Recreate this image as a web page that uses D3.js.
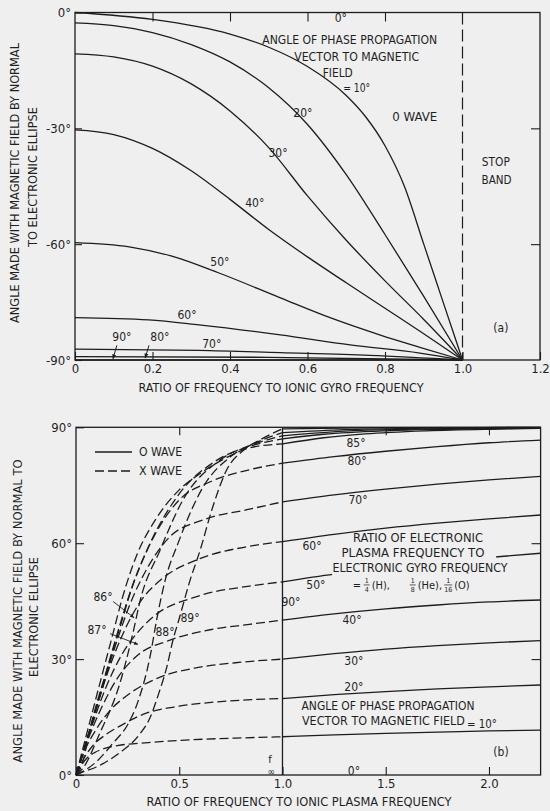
<!DOCTYPE html>
<html>
<head>
<meta charset="utf-8">
<script src="https://cdn.jsdelivr.net/npm/d3@7/dist/d3.min.js"></script>
<style>
  html, body { margin: 0; padding: 0; background: #efefef; }
  svg { display: block; }
  text { font-family: "Liberation Sans Narrow", "DejaVu Sans Condensed", "Liberation Sans", Arial, sans-serif; fill: #1f1f1f; }
</style>
</head>
<body>
<svg id="fig" width="550" height="811"></svg>
<script>
// ---------------- data: panel (a), angle vs. f / f_gyro(ion) ----------------
const topXTicks = [0, 0.2, 0.4, 0.6, 0.8, 1.0, 1.2];
const topXLabels = ["0", "0.2", "0.4", "0.6", "0.8", "1.0", "1.2"];
const topYTicks = [0, -30, -60, -90];
const topYLabels = ["0°", "-30°", "-60°", "-90°"];

// O wave, one curve per propagation angle (ratio, angle in degrees)
const topAngles = [10, 20, 30, 40, 50, 60, 70, 80, 90];
const top10 = [[0,0],[0.2,-1.8],[0.4,-5.6],[0.5,-9.0],[0.6,-14.0],[0.7,-21.5],[0.75,-27],[0.8,-34.5],[0.85,-45],[0.9,-60],[0.95,-75],[1.0,-90]];
const top20 = [[0,-2.7],[0.1,-3.4],[0.2,-5.2],[0.3,-8.3],[0.4,-12.8],[0.5,-19.5],[0.6,-29],[0.7,-42],[0.8,-57.5],[0.9,-73.5],[1.0,-90]];
const top30 = [[0,-10.7],[0.1,-11.5],[0.2,-13.9],[0.3,-18.5],[0.4,-25.5],[0.5,-35],[0.6,-47.5],[0.7,-59],[0.8,-69.5],[0.9,-79.5],[1.0,-90]];
const top40 = [[0,-30.4],[0.1,-31.6],[0.2,-35.2],[0.3,-41],[0.4,-48.4],[0.5,-56.2],[0.6,-63.3],[0.7,-70],[0.8,-76.6],[0.9,-83.2],[1.0,-90]];
const top50 = [[0,-59.6],[0.14,-60.7],[0.25,-63.1],[0.37,-67.4],[0.53,-73.9],[0.66,-79.1],[0.79,-83.6],[0.89,-86.7],[1.0,-90]];
const top60 = [[0,-79.0],[0.19,-79.6],[0.32,-80.9],[0.53,-83.5],[0.71,-86.1],[0.89,-88.2],[1.0,-90]];
const top70 = [[0,-87.2],[0.32,-87.5],[0.53,-88.1],[0.76,-88.8],[1.0,-90]];
const top80 = [[0,-89.1],[0.5,-89.3],[1.0,-90]];
const top90 = [[0,-90],[1.0,-90]];

// ---------------- data: panel (b), angle vs. f / f_plasma(ion) ----------------
const botXTicks = [0, 0.5, 1.0, 1.5, 2.0];
const botXLabels = ["0", "0.5", "1.0", "1.5", "2.0"];
const botYTicks = [0, 30, 60, 90];
const botYLabels = ["0°", "30°", "60°", "90°"];

// O wave (solid), above the ionic plasma frequency
const o10 = [[1.0,9.9],[1.25,10.4],[1.5,10.8],[1.75,11.1],[2.0,11.4],[2.25,11.6]];
const o20 = [[1.0,19.8],[1.25,20.8],[1.5,21.6],[1.75,22.3],[2.0,22.8],[2.25,23.3]];
const o30 = [[1.0,30.0],[1.25,31.4],[1.5,32.6],[1.75,33.5],[2.0,34.2],[2.25,34.8]];
const o40 = [[1.0,40.1],[1.25,41.7],[1.5,43.0],[1.75,44.0],[2.0,44.8],[2.25,45.3]];
const o50 = [[1.0,50.0],[1.25,52.0],[1.5,53.6],[1.75,55.0],[2.0,56.3],[2.25,57.4]];
const o60 = [[1.0,60.4],[1.25,62.3],[1.5,63.9],[1.75,65.2],[2.0,66.3],[2.25,67.3]];
const o70 = [[1.0,70.7],[1.25,72.5],[1.5,74.0],[1.75,75.3],[2.0,76.4],[2.25,77.3]];
const o80 = [[1.0,80.7],[1.25,82.4],[1.5,83.8],[1.75,85.0],[2.0,86.0],[2.25,86.7]];
const o85 = [[1.0,85.7],[1.2,87.3],[1.4,88.3],[1.7,89.1],[2.0,89.5],[2.25,89.7]];
const o86 = [[1.0,87.0],[1.2,88.2],[1.5,89.1],[1.8,89.5],[2.25,89.8]];
const o87 = [[1.0,87.8],[1.3,89.0],[1.6,89.5],[2.25,89.9]];
const o88 = [[1.0,88.6],[1.3,89.4],[1.7,89.8],[2.25,90]];
const o89 = [[1.0,89.6],[1.5,89.9],[2.25,90]];

// X wave (dashed), below the ionic plasma frequency
const x10 = [[0,0],[0.02,2],[0.05,4.2],[0.09,5.8],[0.14,6.9],[0.2,7.6],[0.35,8.4],[0.55,9.1],[0.8,9.6],[1.0,9.9]];
const x20 = [[0,0],[0.03,3.5],[0.08,7.5],[0.14,10.3],[0.21,12.6],[0.34,16],[0.5,17.8],[0.7,19],[0.85,19.5],[1.0,19.8]];
const x30 = [[0,0],[0.04,6],[0.1,12],[0.17,17],[0.245,20.5],[0.41,25.4],[0.6,27.9],[0.8,29.2],[1.0,30]];
const x40 = [[0,0],[0.05,8],[0.12,17],[0.2,25],[0.29,30.6],[0.455,34.9],[0.65,37.6],[0.84,39],[1.0,40.1]];
const x50 = [[0,0],[0.06,10],[0.14,22],[0.22,31],[0.3,37],[0.375,41],[0.585,46.2],[0.84,48.9],[1.0,50]];
const x60 = [[0,0],[0.07,12],[0.15,26],[0.24,38],[0.32,45.5],[0.41,50.5],[0.6,56],[0.84,59.2],[1.0,60.4]];
const x70 = [[0,0],[0.08,14],[0.17,30],[0.26,44],[0.35,54],[0.455,61.7],[0.615,66],[0.84,68.8],[1.0,70.7]];
const x80 = [[0,0],[0.09,16],[0.18,33],[0.28,50],[0.38,62],[0.5,71.2],[0.65,75.9],[0.84,79],[1.0,80.7]];
const x85 = [[0,0],[0.053,10.9],[0.116,23.8],[0.18,36.8],[0.22,45],[0.295,57],[0.39,66.5],[0.5,73.8],[0.6,78],[0.7,81.3],[0.85,84.8],[1.0,85.7]];
const x86 = [[0,0],[0.02,1.5],[0.082,15],[0.165,29.8],[0.228,40.9],[0.252,45.3],[0.344,58.2],[0.489,72],[0.683,81.5],[0.85,85.2],[1.0,87]];
const x87 = [[0,0],[0.03,1.5],[0.116,10.9],[0.213,23.8],[0.276,36.8],[0.31,45],[0.407,58.2],[0.518,71.2],[0.697,81.5],[0.86,85.6],[1.0,87.8]];
const x88 = [[0,0],[0.03,0.8],[0.1,3.5],[0.18,8.3],[0.25,13],[0.3,19],[0.36,31],[0.39,40],[0.43,50],[0.5,60.8],[0.615,74.5],[0.746,82.3],[0.87,86],[1.0,88.6]];
const x89 = [[0,0],[0.02,0.5],[0.1,2.1],[0.21,5.7],[0.3,10],[0.36,15],[0.4,21],[0.44,28],[0.47,35],[0.5,40.5],[0.55,50],[0.6,58],[0.66,69],[0.73,79],[0.81,84],[0.9,87],[1.0,89.6]];

// ---------------- drawing ----------------
const INK = "#1d1d1d";
const svg = d3.select("#fig");
const defs = svg.append("defs");

defs.append("marker")
  .attr("id", "tip").attr("viewBox", "0 0 10 10").attr("refX", 9).attr("refY", 5)
  .attr("markerWidth", 5).attr("markerHeight", 5).attr("orient", "auto-start-reverse")
  .append("path").attr("d", "M0,1 L10,5 L0,9 Z").attr("fill", INK);

function txt(g, x, y, s, size, opts = {}) {
  const t = g.append("text")
    .attr("x", x).attr("y", y)
    .attr("dy", "0.35em")
    .attr("text-anchor", opts.anchor || "middle")
    .style("font-size", size + "px")
    .text(s);
  if (opts.w) t.attr("textLength", opts.w).attr("lengthAdjust", "spacingAndGlyphs");
  if (opts.rot) t.attr("transform", `rotate(${opts.rot},${x},${y})`);
  return t;
}

function styleAxis(g, size) {
  g.select(".domain").remove();
  g.selectAll(".tick line").attr("stroke", INK).attr("stroke-width", 1.1);
  g.selectAll(".tick text").style("font-size", size + "px").attr("fill", INK);
}

// ===== panel (a) =====
const xT = d3.scaleLinear().domain([0, 1.2]).range([75, 540]);
const yT = d3.scaleLinear().domain([-90, 0]).range([360, 12.5]);
const gT = svg.append("g");

const lineT = d3.line().x(d => xT(d[0])).y(d => yT(d[1])).curve(d3.curveMonotoneX);
const topSeries = [top10, top20, top30, top40, top50, top60, top70, top80, top90];
gT.selectAll("path.o").data(topSeries).join("path")
  .attr("class", "o").attr("d", lineT)
  .attr("fill", "none").attr("stroke", INK).attr("stroke-width", 1.3);

// stop-band boundary at the ionic gyro frequency
gT.append("line")
  .attr("x1", xT(1.0)).attr("x2", xT(1.0)).attr("y1", yT(0)).attr("y2", yT(-90))
  .attr("stroke", INK).attr("stroke-width", 1.2).attr("stroke-dasharray", "12,5");

// frame
gT.append("rect")
  .attr("x", xT(0)).attr("y", yT(0)).attr("width", xT(1.2) - xT(0)).attr("height", yT(-90) - yT(0))
  .attr("fill", "none").attr("stroke", INK).attr("stroke-width", 1.3);

// axes
const axTB = gT.append("g").attr("transform", `translate(0,${yT(-90)})`)
  .call(d3.axisBottom(xT).tickValues(topXTicks).tickFormat((d, i) => topXLabels[i]).tickSizeInner(-8).tickSizeOuter(0).tickPadding(4));
styleAxis(axTB, 13);
const axTT = gT.append("g").attr("transform", `translate(0,${yT(0)})`)
  .call(d3.axisTop(xT).tickValues(topXTicks.slice(1, 5)).tickFormat("").tickSizeInner(-9).tickSizeOuter(0));
styleAxis(axTT, 13);
const axTL = gT.append("g").attr("transform", `translate(${xT(0)},0)`)
  .call(d3.axisLeft(yT).tickValues(topYTicks).tickFormat((d, i) => topYLabels[i]).tickSizeInner(-7).tickSizeOuter(0).tickPadding(4));
styleAxis(axTL, 13);
const axTR = gT.append("g").attr("transform", `translate(${xT(1.2)},0)`)
  .call(d3.axisRight(yT).tickValues([-30, -60]).tickFormat("").tickSizeInner(-9).tickSizeOuter(0));
styleAxis(axTR, 13);

// titles
txt(gT, 281, 388, "RATIO OF FREQUENCY TO IONIC GYRO FREQUENCY", 12.5, { w: 285 });
txt(gT, 15, 183, "ANGLE MADE WITH MAGNETIC FIELD BY NORMAL", 12.5, { w: 280, rot: -90 });
txt(gT, 33, 177, "TO ELECTRONIC ELLIPSE", 12.5, { w: 140, rot: -90 });

// curve labels and notes
txt(gT, xT(0.686), yT(-1.4), "0°", 12);
txt(gT, xT(0.709), yT(-7.1), "ANGLE OF PHASE PROPAGATION", 12, { w: 175 });
txt(gT, xT(0.727), yT(-11.5), "VECTOR TO MAGNETIC", 12, { w: 125 });
txt(gT, xT(0.678), yT(-15.7), "FIELD", 12, { w: 30 });
txt(gT, xT(0.727), yT(-19.6), "= 10°", 12, { w: 27 });
txt(gT, xT(0.588), yT(-26.0), "20°", 12);
txt(gT, xT(0.524), yT(-36.4), "30°", 12);
txt(gT, xT(0.464), yT(-49.3), "40°", 12);
txt(gT, xT(0.374), yT(-64.6), "50°", 12);
txt(gT, xT(0.289), yT(-78.3), "60°", 12);
txt(gT, xT(0.353), yT(-85.9), "70°", 12);
txt(gT, xT(0.121), yT(-84.0), "90°", 12);
txt(gT, xT(0.219), yT(-84.0), "80°", 12);
txt(gT, xT(0.877), yT(-27.1), "0 WAVE", 12, { w: 45 });
txt(gT, xT(1.086), yT(-38.7), "STOP", 12, { w: 28 });
txt(gT, xT(1.088), yT(-43.4), "BAND", 12, { w: 30 });
txt(gT, xT(1.099), yT(-81.7), "(a)", 12);

// pointers to the 90° and 80° curves
[[0.108, -86.2, 0.098, -89.7], [0.191, -86.2, 0.181, -89.5]].forEach(a => {
  gT.append("line")
    .attr("x1", xT(a[0])).attr("y1", yT(a[1])).attr("x2", xT(a[2])).attr("y2", yT(a[3]))
    .attr("stroke", INK).attr("stroke-width", 1).attr("marker-end", "url(#tip)");
});

// ===== panel (b) =====
const xB = d3.scaleLinear().domain([0, 2.25]).range([76, 540.6]);
const yB = d3.scaleLinear().domain([0, 90]).range([775, 427.3]);
const gB = svg.append("g");

// the 50° curve is broken where the note about plasma frequencies crosses it
const m = defs.append("mask").attr("id", "note-gap").attr("maskUnits", "userSpaceOnUse");
m.append("rect").attr("x", 0).attr("y", 0).attr("width", 550).attr("height", 811).attr("fill", "#fff");
m.append("rect").attr("x", xB(1.24)).attr("y", yB(57)).attr("width", xB(2.035) - xB(1.24)).attr("height", yB(48) - yB(57)).attr("fill", "#000");

const lineB = d3.line().x(d => xB(d[0])).y(d => yB(d[1])).curve(d3.curveMonotoneX);
const oSeries = [o10, o20, o30, o40, o50, o60, o70, o80, o85, o86, o87, o88, o89];
const xSeries = [x10, x20, x30, x40, x50, x60, x70, x80, x85, x86, x87, x88, x89];

gB.selectAll("path.ow").data(oSeries).join("path")
  .attr("class", "ow").attr("d", lineB)
  .attr("fill", "none").attr("stroke", INK).attr("stroke-width", 1.3)
  .attr("mask", d => d === o50 ? "url(#note-gap)" : null);

gB.selectAll("path.xw").data(xSeries).join("path")
  .attr("class", "xw").attr("d", lineB)
  .attr("fill", "none").attr("stroke", INK).attr("stroke-width", 1.3)
  .attr("stroke-dasharray", "9,4");

// 90° O-wave curve: vertical at the ionic plasma frequency
gB.append("line")
  .attr("x1", xB(1.0)).attr("x2", xB(1.0)).attr("y1", yB(0)).attr("y2", yB(90))
  .attr("stroke", INK).attr("stroke-width", 1.3);

// frame
gB.append("rect")
  .attr("x", xB(0)).attr("y", yB(90)).attr("width", xB(2.25) - xB(0)).attr("height", yB(0) - yB(90))
  .attr("fill", "none").attr("stroke", INK).attr("stroke-width", 1.3);

const axBB = gB.append("g").attr("transform", `translate(0,${yB(0)})`)
  .call(d3.axisBottom(xB).tickValues(botXTicks).tickFormat((d, i) => botXLabels[i]).tickSizeInner(-8).tickSizeOuter(0).tickPadding(4));
styleAxis(axBB, 13);
const axBT = gB.append("g").attr("transform", `translate(0,${yB(90)})`)
  .call(d3.axisTop(xB).tickValues([0.5, 1.5, 2.0]).tickFormat("").tickSizeInner(-8).tickSizeOuter(0));
styleAxis(axBT, 13);
const axBL = gB.append("g").attr("transform", `translate(${xB(0)},0)`)
  .call(d3.axisLeft(yB).tickValues(botYTicks).tickFormat((d, i) => botYLabels[i]).tickSizeInner(-8).tickSizeOuter(0).tickPadding(4));
styleAxis(axBL, 13);
const axBR = gB.append("g").attr("transform", `translate(${xB(2.25)},0)`)
  .call(d3.axisRight(yB).tickValues([30, 60]).tickFormat("").tickSizeInner(-9).tickSizeOuter(0));
styleAxis(axBR, 13);

txt(gB, 299, 802, "RATIO OF FREQUENCY TO IONIC PLASMA FREQUENCY", 12.5, { w: 305 });
txt(gB, 18, 611, "ANGLE MADE WITH MAGNETIC FIELD BY NORMAL TO", 12.5, { w: 303, rot: -90 });
txt(gB, 34, 617, "ELECTRONIC ELLIPSE", 12.5, { w: 120, rot: -90 });

// legend
const lg = gB.append("g");
lg.append("line").attr("x1", 95).attr("x2", 132).attr("y1", 452).attr("y2", 452).attr("stroke", INK).attr("stroke-width", 1.3);
lg.append("line").attr("x1", 95).attr("x2", 132).attr("y1", 471).attr("y2", 471).attr("stroke", INK).attr("stroke-width", 1.3).attr("stroke-dasharray", "9,4");
txt(lg, 139, 452, "O WAVE", 12, { anchor: "start", w: 43 });
txt(lg, 139, 471, "X WAVE", 12, { anchor: "start", w: 43 });

// curve labels
txt(gB, xB(1.356), yB(85.9), "85°", 12);
txt(gB, xB(1.361), yB(81.3), "80°", 12);
txt(gB, xB(1.366), yB(71.2), "70°", 12);
txt(gB, xB(1.143), yB(59.3), "60°", 12);
txt(gB, xB(1.162), yB(49.2), "50°", 12);
txt(gB, xB(1.337), yB(40.1), "40°", 12);
txt(gB, xB(1.346), yB(29.5), "30°", 12);
txt(gB, xB(1.346), yB(22.8), "20°", 12);
txt(gB, xB(1.346), yB(1.0), "0°", 12);
txt(gB, xB(1.041), yB(44.8), "90°", 12);
txt(gB, xB(0.131), yB(46.1), "86°", 12);
txt(gB, xB(0.102), yB(37.5), "87°", 12);
txt(gB, xB(0.431), yB(37.0), "88°", 12);
txt(gB, xB(0.552), yB(40.6), "89°", 12);
txt(gB, xB(2.058), yB(6.0), "(b)", 12);

// leaders for 86° and 87°
[[0.180, 44.9, 0.281, 40.7], [0.165, 36.6, 0.300, 33.8]].forEach(a => {
  gB.append("line")
    .attr("x1", xB(a[0])).attr("y1", yB(a[1])).attr("x2", xB(a[2])).attr("y2", yB(a[3]))
    .attr("stroke", INK).attr("stroke-width", 0.9).attr("marker-end", "url(#tip)");
});

// notes
txt(gB, xB(1.656), yB(61.4), "RATIO OF ELECTRONIC", 12, { w: 130 });
txt(gB, xB(1.632), yB(57.5), "PLASMA FREQUENCY TO", 12, { w: 143 });
txt(gB, xB(1.666), yB(53.6), "ELECTRONIC GYRO FREQUENCY", 12, { w: 175 });
txt(gB, xB(1.511), yB(17.9), "ANGLE OF PHASE PROPAGATION", 12, { w: 173 });
txt(gB, xB(1.489), yB(14.0), "VECTOR TO MAGNETIC FIELD", 12, { w: 163 });
txt(gB, xB(1.966), yB(13.3), "= 10°", 12, { w: 30 });

// "= 1/4 (H), 1/8 (He), 1/16 (O)" with stacked fractions
const fy = yB(49.2);
const fx0 = xB(1.34);
function frac(x, num, den, w) {
  txt(gB, x, fy - 4.6, num, 7);
  gB.append("line").attr("x1", x - w / 2).attr("x2", x + w / 2).attr("y1", fy).attr("y2", fy).attr("stroke", INK).attr("stroke-width", 0.7);
  txt(gB, x, fy + 5, den, 7);
}
txt(gB, fx0, fy, "=", 11, { anchor: "start" });
frac(fx0 + 14, "1", "4", 6);
txt(gB, fx0 + 19, fy, "(H),", 11, { anchor: "start" });
frac(fx0 + 60, "1", "8", 6);
txt(gB, fx0 + 65, fy, "(He),", 11, { anchor: "start" });
frac(fx0 + 95.5, "1", "16", 8);
txt(gB, fx0 + 101.5, fy, "(O)", 11, { anchor: "start" });

// f∞ marker at the ionic plasma frequency
txt(gB, xB(0.94), yB(4.2), "f", 11);
txt(gB, xB(0.945), yB(1.0), "∞", 10);
</script>
</body>
</html>
